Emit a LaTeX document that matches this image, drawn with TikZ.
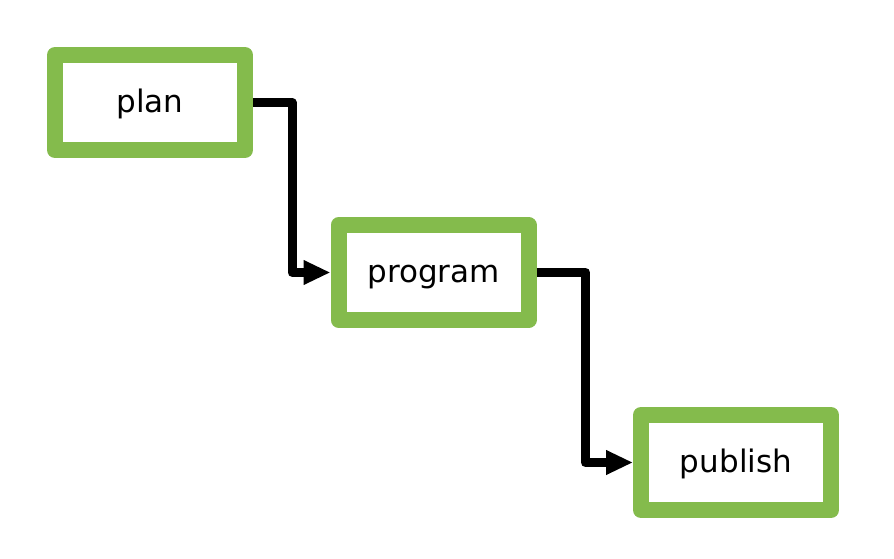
\documentclass[tikz,border=0pt]{standalone}
\usepackage{fontspec}
\setmainfont{DejaVu Sans}
\usetikzlibrary{arrows.meta}
\definecolor{stepgreen}{RGB}{132,187,76}
\tikzset{
  stepbox/.style={draw=stepgreen, line width=16pt, line join=round, fill=white,
    minimum width=190pt, minimum height=95pt, inner sep=0pt,
    text height=23pt, text depth=3pt,
    font=\fontsize{31}{36}\selectfont},
  flow/.style={line width=9pt, line join=round,
    -{Triangle[length=27pt,width=23pt]}}
}
\begin{document}
\begin{tikzpicture}[x=1pt,y=1pt]
  \useasboundingbox (0,0) rectangle (894,-559);
  \node[stepbox] (plan) at (150,-102.5) {plan};
  \node[stepbox] (program) at (433.5,-272.5) {program};
  \node[stepbox] (publish) at (736,-462.5) {publish};
  \draw[flow] (plan.east) -- ++(39,0) |- (program.west);
  \draw[flow] (program.east) -- ++(49,0) |- (publish.west);
\end{tikzpicture}
\end{document}
